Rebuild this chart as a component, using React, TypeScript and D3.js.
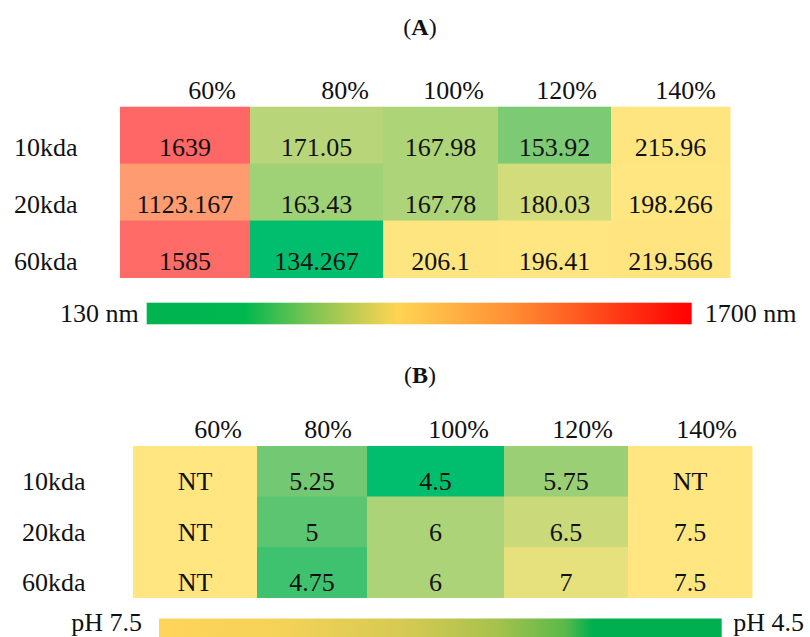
import React from "react";
import * as d3 from "d3";

// ---- data ----
const rowLabels = ["10kda", "20kda", "60kda"];
const colLabels = ["60%", "80%", "100%", "120%", "140%"];

// particle size (nm)
const size10kda = [1639, 171.05, 167.98, 153.92, 215.96];
const size20kda = [1123.167, 163.43, 167.78, 180.03, 198.266];
const size60kda = [1585, 134.267, 206.1, 196.41, 219.566];

// pH value per formulation; null = not tested (NT)
const ph10kda: (number | null)[] = [null, 5.25, 4.5, 5.75, null];
const ph20kda: (number | null)[] = [null, 5, 6, 6.5, 7.5];
const ph60kda: (number | null)[] = [null, 4.75, 6, 7, 7.5];

const sizeLegend = [130, 1700];
const phLegend = [7.5, 4.5];

// ---- layout / style ----
const W = 810;
const H = 637;
const FONT = '"Liberation Serif", "Times New Roman", Times, serif';
const GREEN = "#00BE6E";
const YELLOW = "#FFE680";
const RED = "#FF6666";

const sizeRows = [size10kda, size20kda, size60kda];
const phRows = [ph10kda, ph20kda, ph60kda];

const allSizes = sizeRows.flat();
const sizeColor = d3
  .scaleLinear<string>()
  .domain([d3.min(allSizes)!, d3.median(allSizes)!, d3.max(allSizes)!])
  .range([GREEN, YELLOW, RED])
  .interpolate(d3.interpolateRgb.gamma(1.6));

const allPh = phRows.flat().filter((v): v is number => v !== null);
const phColor = d3
  .scaleLinear<string>()
  .domain([d3.min(allPh)!, d3.max(allPh)!])
  .range([GREEN, YELLOW])
  .interpolate(d3.interpolateRgb.gamma(1.75));

type PanelLayout = {
  letter: string;
  titleY: number;
  x0: number;
  x1: number;
  colWeights: number[];
  y0: number;
  y1: number;
  labelX: number;
  headerY: number;
  headerInset: number;
  baselineInset: number;
  fontSize: number;
};

const layoutA: PanelLayout = {
  letter: "A",
  titleY: 35,
  x0: 120,
  x1: 730,
  colWeights: [130, 133, 115, 113, 119],
  y0: 106.7,
  y1: 277.5,
  labelX: 14,
  headerY: 99,
  headerInset: 14,
  baselineInset: 7.2,
  fontSize: 26,
};

const layoutB: PanelLayout = {
  letter: "B",
  titleY: 383,
  x0: 133,
  x1: 752,
  colWeights: [124, 110, 137, 124, 124],
  y0: 446,
  y1: 597.5,
  labelX: 22,
  headerY: 438,
  headerInset: 15,
  baselineInset: 6.5,
  fontSize: 26,
};

function columnEdges(l: PanelLayout): number[] {
  const total = d3.sum(l.colWeights);
  const x = d3.scaleLinear().domain([0, total]).range([l.x0, l.x1]);
  const cum = [0, ...d3.cumsum(l.colWeights)];
  return cum.map((c) => x(c));
}

function HeatPanel({
  layout,
  values,
  color,
  fmt,
}: {
  layout: PanelLayout;
  values: (number | null)[][];
  color: (v: number | null) => string;
  fmt: (v: number | null) => string;
}) {
  const edges = columnEdges(layout);
  const y = d3
    .scaleBand<string>()
    .domain(rowLabels)
    .range([layout.y0, layout.y1]);
  return (
    <g fontFamily={FONT} fill="#111">
      <text x={420} y={layout.titleY} textAnchor="middle" fontSize={24}>
        (<tspan fontWeight="bold">{layout.letter}</tspan>)
      </text>
      {colLabels.map((c, j) => (
        <text
          key={c}
          x={edges[j + 1] - layout.headerInset}
          y={layout.headerY}
          textAnchor="end"
          fontSize={layout.fontSize}
        >
          {c}
        </text>
      ))}
      {rowLabels.map((r, i) => {
        const top = y(r)!;
        const bottom = top + y.bandwidth();
        return (
          <g key={r}>
            {values[i].map((v, j) => (
              <rect
                key={j}
                x={edges[j]}
                y={top}
                width={edges[j + 1] - edges[j] + 0.5}
                height={y.bandwidth() + 0.5}
                fill={color(v)}
              />
            ))}
            <text
              x={layout.labelX}
              y={bottom - layout.baselineInset}
              fontSize={layout.fontSize}
            >
              {r}
            </text>
            {values[i].map((v, j) => (
              <text
                key={"t" + j}
                x={(edges[j] + edges[j + 1]) / 2}
                y={bottom - layout.baselineInset}
                textAnchor="middle"
                fontSize={layout.fontSize}
              >
                {fmt(v)}
              </text>
            ))}
          </g>
        );
      })}
    </g>
  );
}

function ColorBar({
  id,
  x0,
  x1,
  y0,
  h,
  domain,
  unit,
  prefix,
  stops,
  baseline,
  leftGap,
  rightGap,
}: {
  id: string;
  x0: number;
  x1: number;
  y0: number;
  h: number;
  domain: number[];
  unit: string;
  prefix: string;
  stops: [number, string][];
  baseline: number;
  leftGap: number;
  rightGap: number;
}) {
  const x = d3.scaleLinear().domain(domain).range([x0, x1]);
  const lo = domain[0];
  const hi = domain[domain.length - 1];
  return (
    <g fontFamily={FONT} fill="#111" fontSize={26}>
      <defs>
        <linearGradient id={id} x1="0" x2="1" y1="0" y2="0">
          {stops.map(([o, c], i) => (
            <stop key={i} offset={o} stopColor={c} />
          ))}
        </linearGradient>
      </defs>
      <rect
        x={x(lo)}
        y={y0}
        width={x(hi) - x(lo)}
        height={h}
        fill={`url(#${id})`}
      />
      <text x={x(lo) - leftGap} y={baseline} textAnchor="end">
        {prefix}
        {lo}
        {unit}
      </text>
      <text x={x(hi) + rightGap} y={baseline} textAnchor="start">
        {prefix}
        {hi}
        {unit}
      </text>
    </g>
  );
}

export default function App() {
  return (
    <div style={{ position: "absolute", left: 0, top: 0 }}>
      <svg width={W} height={H} style={{ display: "block", background: "#fff" }}>
        <rect width={W} height={H} fill="#fff" />
        <HeatPanel
          layout={layoutA}
          values={sizeRows}
          color={(v) => sizeColor(v as number)}
          fmt={(v) => String(v)}
        />
        <ColorBar
          id="sizeGrad"
          x0={146.7}
          x1={691.7}
          y0={302.7}
          h={21.6}
          domain={sizeLegend}
          unit=" nm"
          prefix=""
          baseline={321.7}
          leftGap={8}
          rightGap={13}
          stops={[
            [0, "#00B34E"],
            [0.18, "#00B850"],
            [0.3, "#7CC453"],
            [0.46, "#FFD453"],
            [0.68, "#FF8A32"],
            [0.9, "#FF2A10"],
            [1, "#FF0000"],
          ]}
        />
        <HeatPanel
          layout={layoutB}
          values={phRows}
          color={(v) => (v === null ? phColor(phLegend[0]) : phColor(v))}
          fmt={(v) => (v === null ? "NT" : String(v))}
        />
        <ColorBar
          id="phGrad"
          x0={159}
          x1={721.7}
          y0={618.5}
          h={22}
          domain={phLegend}
          unit=""
          prefix="pH "
          baseline={631}
          leftGap={17}
          rightGap={11.5}
          stops={[
            [0, "#FFD45A"],
            [0.22, "#F4D258"],
            [0.45, "#D2C952"],
            [0.6, "#A6C24D"],
            [0.72, "#5CB94A"],
            [0.77, "#00B050"],
            [1, "#00B050"],
          ]}
        />
      </svg>
    </div>
  );
}
